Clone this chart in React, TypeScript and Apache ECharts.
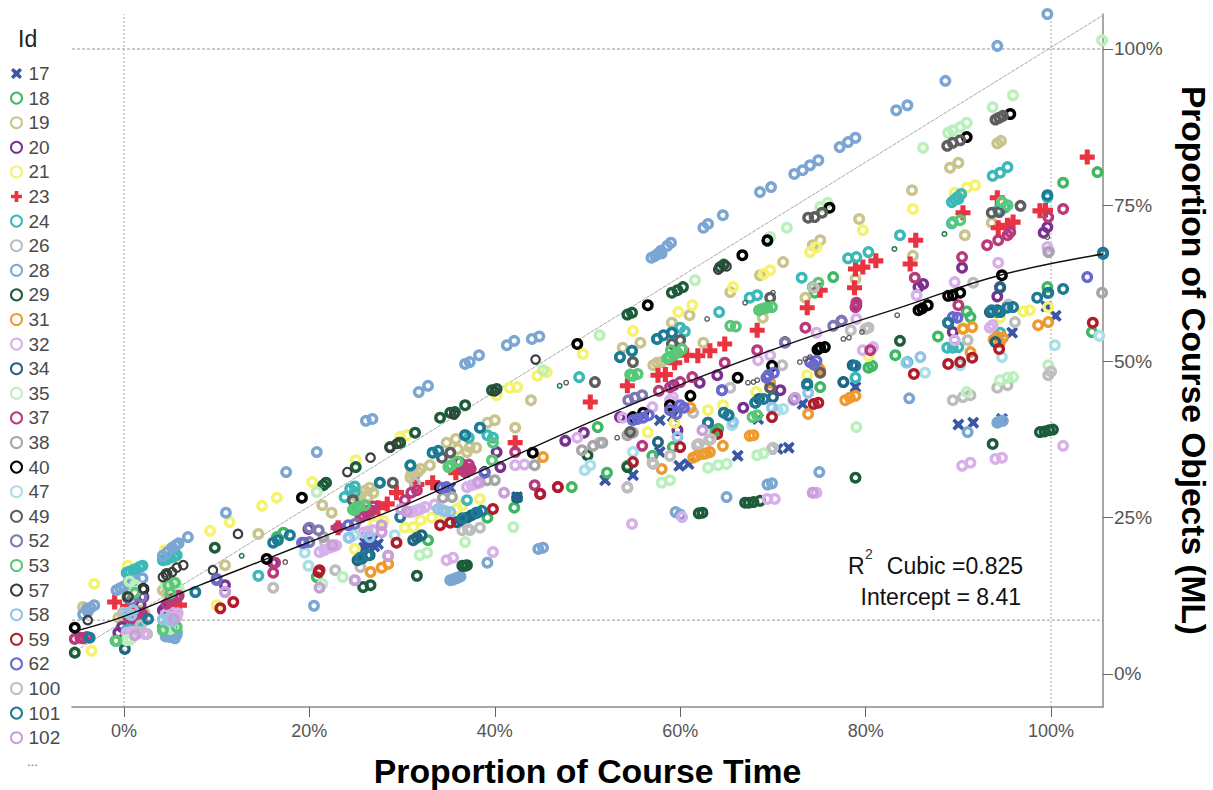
import React, { useEffect, useRef } from "react";
import * as echarts from "echarts";

type P = [number, number];

const xTicks = [0, 20, 40, 60, 80, 100];
const yTicks = [0, 25, 50, 75, 100];
const ids = ["17","18","19","20","21","23","24","26","28","29","31","32","34","35","37","38","40","47","49","52","53","57","58","59","62","100","101","102"];
const xTitle = "Proportion of Course Time";
const yTitle = "Proportion of Course Objects (ML)";

const d17: P[] = [[90,39.9],[91.6,40.2],[94.7,40.8],[100.5,57.3],[95.8,54.6],[78.9,45.9],[51.9,31],[54.9,31.8],[59.9,33.3],[60.9,33.6],[66.2,34.9],[70.5,36],[71.7,36.2],[73.2,43.2],[68.4,40.8],[57.8,35.5],[26.5,20.6],[25.9,20.2],[26.8,21.4],[42.4,28.3],[35.2,29.8],[57.8,40.6],[99.5,58.8],[59.2,41.2],[26,21],[27,20.4],[27.4,20.8],[26.2,22]];
const d18: P[] = [[105,80.3],[101.3,78.6],[99.6,61.9],[91.3,57.1],[87.8,54],[83.2,51],[80.7,49.3],[80.3,49],[75.1,45.9],[95.3,58.9],[93.7,57.9],[104.4,54.7],[76.5,63.5],[54.3,33.3],[52.1,32.2],[57,34.9],[64.1,39.2],[59.2,36.3],[48.3,29.9],[42.1,26.6],[51.1,39.5],[39.2,25],[32.8,21.4],[20.8,15.5],[-0.9,5.3],[4.2,7.5],[5.7,6.7],[16.5,21.9],[17.2,22.6],[74.5,61],[90.9,58],[63.8,38.8],[4.8,6.3]];
const d19: P[] = [[94.6,85.3],[94.2,84.9],[90,81.8],[89.1,81],[79.3,72.8],[85,77.4],[75.1,69.4],[74.3,68.6],[90.7,70.2],[85.1,66.9],[78.9,63.2],[93.6,72.2],[73.5,60.2],[68.9,57],[71.1,65.9],[68.6,63.8],[65.4,61.1],[61,57.4],[59.1,56.2],[62.5,53],[57.5,49.8],[57.1,49.4],[58,49.9],[55.7,53],[53.8,52.2],[43.9,43.8],[42.2,39.4],[40,40.6],[39.2,40.2],[37.3,36.3],[34.8,37],[35.8,37.6],[31.2,32.2],[30.9,31.4],[31.7,32.3],[26.3,28.3],[26.9,29],[25.6,27.6],[22.4,25.8],[21.4,27],[37,35.5],[38,36.2],[10.9,17.4],[14.5,22.4],[-0.1,9.1],[-4.4,10.7],[5,13.9],[4.6,13],[1,9.7],[1.9,10.2],[25,28.4],[26,29.3],[25.5,28.6],[26.5,29.8],[31,32],[32,32.8],[33,33.4],[36,36],[0.5,9.4],[1.5,9.6],[2.2,9.8],[-0.6,9],[4.2,13.4],[5.2,13.6]];
const d20: P[] = [[90.4,65],[86.2,62.4],[85.7,61.9],[99.6,71.5],[89.4,54.7],[79,59],[77.4,56.5],[94.5,61.9],[66.8,42.6],[62.1,46.6],[64,47.8],[59.3,46.2],[70.8,45.4],[53.5,41.1],[47.6,37.3],[49.6,38.6],[40.6,33.1],[40.2,35.5],[59.7,39],[19.9,23.2],[10.9,14.2],[2.1,12.3],[-0.6,6.6],[16.1,17.8],[5,11.4],[4.2,10.2],[94.2,60.4],[99.2,70.6],[4.5,10.6],[5.5,10.9],[1.8,11],[-0.2,7.5]];
const d21: P[] = [[89.6,77],[90.2,76.7],[91.8,78.2],[90.9,77.8],[85.1,74.4],[79.7,71],[74.7,68.3],[74,67.5],[97.7,58.2],[97,58],[99.7,58.7],[80.3,50.9],[94.5,57],[90.5,55.4],[69.7,64.6],[69,64],[65.7,61.9],[59.8,57.9],[61.3,59],[54.9,54.9],[49.5,51.2],[44.6,47.7],[45.6,48.3],[40.2,44.6],[41.6,45.8],[42.4,45.9],[29.8,37.9],[56.5,38.7],[63,42.2],[64.6,43],[59.4,40.2],[68.2,45.1],[73.7,47.8],[25,34.2],[20.3,30.7],[30.5,38.2],[24.9,20],[33.2,25],[30.3,23.4],[31.2,23.5],[35.9,26.4],[38.4,28],[9.3,22.9],[11.4,24.3],[14.9,26.9],[16.5,28.2],[-3.2,14.4],[-3.5,3.7],[10,11],[0.4,17.3],[4.4,19.8],[27,24],[28,24.5],[32,24.6],[34.5,25.6],[36.5,27]];
const d23: P[] = [[103.9,82.7],[94.2,76.2],[90.5,73.8],[99.4,74.2],[98.8,74.1],[95.9,72.3],[95.3,71.8],[94.3,71.4],[85.4,69.4],[84.8,65.6],[81.1,66.1],[79.7,65.1],[78.9,64.8],[78.8,61.8],[73.7,58.6],[75.1,61.4],[68.3,55],[64.8,52.8],[63.2,51.7],[61.9,50.9],[60.7,51],[59.4,49.8],[57.6,47.8],[54.3,46.1],[50.3,43.5],[42.2,37],[37,32.6],[33.3,30.6],[36.8,33.1],[29.4,29],[28.4,27.2],[31.6,30.3],[23.1,23.4],[26.3,25.8],[-1,11.5],[6,11],[5.4,10.6],[0.4,10.8],[27.4,26.6],[35.8,32.2],[58.4,47.9]];
const d24: P[] = [[95.3,81.1],[94.5,80.2],[93.7,79.7],[89.9,76.3],[89.3,75.5],[90.3,76.8],[99.6,76.3],[95,74.6],[94.3,74.2],[89.3,72.1],[83.7,70.2],[80.3,67.5],[79,66.7],[78.1,66.5],[73.1,63.4],[89.4,52.2],[90,52.3],[88.8,52.2],[84.5,49.9],[77.6,46.7],[78.9,47.4],[94.5,54.6],[67.5,60.2],[68.3,60.6],[64.2,57.9],[57.5,53.6],[54.8,51.7],[53.5,50.7],[49.1,47.5],[38.4,39.4],[36.8,38.2],[33.3,35.4],[30.9,33.3],[60,55.4],[59.1,54.6],[39.8,37.8],[24.9,30],[23.8,28.3],[27.6,30.6],[37,27.8],[14.5,15.7],[24.9,29.1],[1,16.6],[1.7,17.1],[0.3,16.2],[5,18.6],[4.2,18.2],[5.7,19],[1,7.5],[0.3,7],[1.8,8],[0.6,16.4],[1.3,16.8],[2,17.3],[4.6,18.3],[5.4,18.8],[0.7,7.2],[1.4,7.8],[2,8.3],[90,76],[89.6,75.9],[24.4,29.6],[39.2,38.2],[60.5,54.8],[37.2,37.8]];
const d26: P[] = [[89.4,43.8],[90.5,44.3],[91.3,44.6],[94.2,45.8],[95.3,46.2],[99.7,47.8],[91.6,62.6],[80.3,55.4],[91,53.4],[96.1,56.3],[61.8,36.6],[63.1,37.4],[69.9,36],[54.3,29.9],[57,33.8],[58.9,34.9],[51.3,37],[71,49.4],[65.4,45.8],[61.4,41.8],[31.4,30.6],[36.5,23],[37.3,23],[38.4,23.4],[28.5,18.9],[22.8,16.6],[25.5,17.1],[21.7,21],[16.1,13.8],[10.9,13.1],[2.5,6.4],[-0.1,9.8],[5.3,9.1]];
const d28: P[] = [[94.2,100.5],[99.6,105.6],[100.2,105.9],[88.6,94.9],[84.5,91],[83.3,90.2],[78.9,85.8],[78.1,85.1],[77.2,84.3],[74.9,82.2],[74,81.4],[73.2,80.6],[72.3,80],[69.8,77.9],[68.6,77.1],[64.6,73.4],[63,72],[62.5,71.4],[59,69],[58.6,68.5],[57.3,66.9],[56.9,66.6],[57.9,67.7],[44.8,54],[44,53.6],[42.1,53.3],[41.3,52.6],[38.3,51],[36.8,49.6],[37.3,49.9],[32.8,46.1],[31.8,45.1],[26.8,40.8],[26.1,40.5],[20.8,35.5],[17.5,32.3],[11,25.8],[6.9,21.9],[5.2,20.2],[4.7,19.5],[4.2,18.9],[2,15.3],[1.2,15],[0,14],[-0.8,13.4],[-3.6,10.6],[-3.9,10],[-4.4,9.5],[4.6,6.5],[5.4,6.3],[5,6.8],[20.5,10.9],[65,28.3],[69.9,30.5],[69.4,30.3],[59.5,25.9],[60,25.5],[75,32.3],[94.2,40.2],[94.8,40.5],[91,38.7],[36.3,15.6],[35.8,15.3],[35.2,15],[39.2,17.8],[44.7,20],[45.2,20.2],[84.7,44.1],[5,5.9],[4.5,6],[5.5,5.7],[4.8,6.5],[5.7,6.3],[0.5,14.7],[0.9,14.9],[-3.2,11],[-4,10.4],[-0.4,13.7],[58,67.3],[57.6,67.2],[5.6,20.6],[5.9,20.9],[36,15.4],[35.5,15.1],[94.4,40.4]];
const d29: P[] = [[93.7,36.8],[98.8,38.7],[99.3,38.8],[99.8,39],[100.2,39.1],[83.7,53.3],[78.9,31.4],[62.4,25.8],[62,25.7],[67.9,27.5],[67,27.4],[67.4,27.4],[68.6,27.7],[50,35],[54.3,33.1],[69.4,69.3],[64.3,65.1],[64.7,65.5],[59.7,61.4],[60.3,61.9],[59.1,61],[54.8,57.8],[54.3,57.5],[39.7,45.4],[40.2,45.6],[35.2,41.8],[35.7,41.9],[36.8,43],[34.1,41],[31.4,38.6],[29.8,37],[28.7,36.3],[29.7,37],[21.5,30.2],[21.8,30.6],[25,33.1],[31.6,15.7],[36.5,17.3],[37,17.4],[36.8,17.3],[25.8,13.9],[26.6,14.2],[9.8,20.2],[-5.3,3.4],[0.4,12.3],[4.6,16]];
const d31: P[] = [[73.8,41.6],[77.8,43.8],[78.9,44.5],[78.3,44.2],[98.6,55.8],[99.7,56.3],[94.8,53.8],[94.5,53.1],[91.3,51.5],[91.5,55.5],[90.5,55.2],[75.1,48.6],[62.5,35.2],[61.8,34.9],[63.2,35.5],[64.6,36.5],[58,32.8],[67.9,38.2],[67.5,38.1],[61.1,42.6],[69.7,46.6],[74.9,49],[45.2,34.7],[26.6,16.3],[27.8,17],[28.5,17.6],[94.2,54],[93.8,53.5],[62.8,35.3],[61.4,34.6]];
const d32: P[] = [[101.3,36.5],[90.4,33.3],[91.3,33.8],[94,34.4],[94.7,34.6],[99.6,68.3],[99.8,67.6],[85.5,60.6],[94.3,65.8],[89.6,62.7],[89.6,53.4],[93.7,55.8],[93.4,55.4],[79.7,51.8],[80.8,52.3],[79,56.8],[74.7,54.6],[69.4,28],[70.2,28],[74.3,29],[74.7,29],[60.2,25.1],[54.8,24],[68.4,50.2],[69.7,51],[59.2,44.3],[58.9,43.8],[57,42.7],[53.8,41],[48.9,37.8],[42.2,33.4],[43.2,33.5],[37,29.9],[38.4,30.6],[31.6,26.2],[30.9,25.9],[32.5,26.7],[33.5,27.1],[72.2,43.8],[34.8,18.2],[35.5,18.6],[39.8,19.5],[24.9,15],[21.1,19.5],[22.2,20.2],[25.8,22.6],[26.9,23],[0.3,6.6],[1.7,6.7],[1,6.7],[5.7,9.1],[5.2,8.3],[22.9,20.6],[4.5,9.5],[5.2,9.8],[5.8,9.7],[4.8,8.5],[0.7,6.7],[1.3,6.6],[2.2,6.4],[31.2,26],[32,26.4],[21.6,19.8],[22.6,20.4],[26.3,22.8],[37.5,30.2],[38,30.4]];
const d34: P[] = [[0.1,4],[25.2,18.2],[26.5,19],[31.2,21.4],[32.1,22.2],[37,25],[35.9,24.3],[38.1,25.8],[42.4,28.2],[57.6,37.1],[68.1,43.4],[70,44.3],[63,40.2],[65.2,41.4],[73.7,46.4],[77.6,46.7],[78.6,49.4],[94.5,61.8],[94.5,57.9],[94.2,58.2],[93.4,57.9],[88.9,56.2],[73.7,46.2],[94,53.1],[105.6,67.4],[68.5,44],[37.5,25.4],[36.4,24.6],[25.7,18.5],[31.6,21.8]];
const d35: P[] = [[105.5,101.4],[95.9,92.6],[93.7,90.7],[90.9,88.2],[90.2,87.5],[89.4,87],[88.9,86.6],[86.2,84.2],[75.9,75.4],[75.1,74.7],[94.7,75.5],[79,39.5],[99.7,49.4],[95.9,47.5],[95.3,47.4],[94.5,47],[90.9,45.1],[68.3,35],[69,35.3],[64.1,33.4],[65,33.6],[63,33],[58.9,31],[58,30.6],[71.5,71.4],[61.6,63],[51.3,54.2],[45.2,48.6],[69.7,69.9],[36.8,21.1],[31.9,19],[32.7,19.4],[20.8,29.1],[21.4,14.4],[23.6,15.5],[42,23.5],[0.3,5.4],[5.5,7.5],[5.4,13.6],[6,13.2],[1.4,14],[4.5,14.5],[5.2,14.8],[5.8,13.9],[0.7,5.5],[1.2,14.2],[0.6,14.8],[5,7.2],[4.6,7.4]];
const d37: P[] = [[101.3,74.4],[90.4,66.7],[85.3,63.4],[93.1,68.6],[94.3,69.4],[95.3,70.2],[95.6,70.7],[99.7,73.1],[78.9,58.7],[79,59.4],[73.5,55.4],[80.5,51.8],[90,59],[57.7,45.3],[58.9,45.9],[60,46.7],[61.3,47.5],[64.8,49.8],[68.3,51.8],[55.9,36.5],[42.2,35.5],[44.3,30.2],[44.9,28.8],[46.8,29.9],[36.8,32.3],[31.6,29.4],[30.3,27.8],[26.2,25.8],[25.5,25],[23.1,23.4],[-4.7,5.8],[-4,5.9],[-5.3,5.6],[16.1,16.2],[16.3,17.8],[1,9.1],[1.7,9.4],[5.7,12.3],[5,11.8],[37.4,32.8],[4.6,11.2],[5.3,12],[5.9,12.5],[0.5,9],[1.4,9.3],[2,9.5],[-4.4,5.7],[26.6,26],[25.8,25.4],[36.6,33],[37.2,33.5],[31,29],[1,8.9],[26.9,26.8],[25.2,26.2],[36.2,33.9]];
const d38: P[] = [[105.5,61],[99.7,67.5],[54.9,38.6],[54.3,38.2],[69.7,45.8],[21.5,21.9],[34.4,28.2],[35.4,28.3],[39.2,31],[40,31],[44.3,33.4],[49.4,35.8],[50.6,36.5],[51.6,37]];
const d40: P[] = [[15.4,18.4],[19.2,28.2],[44.1,35.4],[48.9,52.8],[56.5,59],[66.7,67],[69.4,69.4],[66.2,47.4],[61.1,44.5],[69.9,49.3],[54.9,41.1],[56,41.8],[58.9,43],[38.9,32.3],[34.1,29.8],[75.1,52.2],[75.6,52.3],[74.8,51.9],[85.7,58.2],[86.7,59],[86.1,58.5],[88.9,60.5],[89.4,60.6],[90.2,61],[94.7,63.8],[90.9,85.9],[95.6,89.6],[76.1,74.6],[-5.3,7.4],[2.1,13.6]];
const d47: P[] = [[100.4,52.6],[105.2,54.1],[86.4,48.2],[94.7,50.7],[90.2,49.4],[71.1,42.4],[70.5,42.2],[65.6,39.8],[54.9,35.5],[49.7,32.6],[50.3,33.4],[29.2,22.2],[19.9,17.3],[19.5,19.4],[24.2,21.8],[24.8,22.2]];
const d49: P[] = [[50.8,46.7],[54.9,49.9],[60,53.4],[59.1,52.8],[69.7,60.2],[71.3,53.1],[35.2,35.4],[34.3,34.6],[96.7,74.9],[93.6,73.8],[94.4,73.9],[29,30.6],[24.7,27.8],[69.7,45.8],[54.6,38.7],[75.1,48.2],[94,88.7],[94.4,89],[94.8,89.3],[88.8,84.5],[89.4,85],[90.2,85.4],[73.8,73],[74.5,73.1],[75.3,73.8]];
const d52: P[] = [[20,23.4],[21,23],[19.2,21],[20,21.1],[24.9,24],[54.4,43.8],[55.1,44.2],[55.9,44.6],[64.5,45.4],[71.3,53],[72.3,44],[76.5,55.7],[77.4,56.5],[10,15],[1.9,12.3],[0.8,11.8]];
const d53: P[] = [[69.9,58.7],[69.4,58.6],[68.8,58.4],[59.7,51.4],[58.9,50.7],[54.9,47.7],[55.4,48],[65.4,55.7],[66,55.6],[35,33.1],[39.7,34.2],[24.9,26.2],[39.8,37],[74.3,61.9],[74.9,62.6],[94.7,75.5],[95.3,75],[90.2,72.6],[89.4,72.3],[68.3,41.4],[67.8,41.1],[4.2,7],[5.7,7.5],[-0.8,5.3],[5,12.9],[1.2,13],[5.5,14.6],[4.8,14.2],[25,26.6],[24.7,26.3],[35.3,33.4],[69.1,58.5],[68.5,58.2],[59.3,51],[58.6,50.5],[54.6,47.9],[36,34],[26,27],[25.4,26.8],[60.2,52],[59,51.8]];
const d57: P[] = [[-3.9,8.6],[6.4,17.4],[5.7,17],[5.2,16.3],[4.6,15.8],[4.2,15.5],[12.3,22.4],[9.6,16.6],[24.1,32.3],[26.6,34.6],[28.7,36.2],[29.4,36.8],[99.6,60.9],[2.1,13.6],[0.5,12.3],[35.6,41.5],[40,45.2],[44.4,50.3],[65,65.2],[64.1,64.7]];
const d58: P[] = [[24.3,21.8],[34.4,26.2],[35.2,25.9],[26.5,21.9],[65.7,40.3],[69.9,42.6],[59.7,37.9],[73.8,45],[84.4,49.8],[85.9,50.7],[1,10.2],[0.4,9.8],[4.8,8.9],[4.2,8.7],[5.2,8.4],[0.8,9.4],[33.9,26.4],[34.7,26]];
const d59: P[] = [[104.5,56.2],[85.2,48],[88.9,49.6],[90.2,49.9],[91.5,50.6],[94.4,52],[74.9,43.4],[74.4,43.2],[54.9,33.9],[60,36.3],[69.9,41.1],[64,38.4],[46.8,29.9],[44.9,28.8],[39.8,26.4],[34.1,23.8],[35.2,24.2],[29.4,21],[21.1,16.6],[21,16.3],[11.8,11.5],[10.4,10.5]];
const d62: P[] = [[103.9,63.5],[89.4,57.1],[89.9,57],[74,49.9],[69.5,47.8],[70.1,48.2],[60,43],[54.9,40.6],[56,41],[34.8,29.9],[34.3,29.8],[38.9,32.2],[64.5,45.4],[24.2,23.8],[19.4,21],[10,15.2],[58.9,42.2],[59.6,41.6],[55.4,40.8],[56.6,41.4],[60.4,42.6],[69.3,47.4],[74.4,49.5],[74.7,50.1]];
const d100: P[] = [[74.4,61.8],[54.3,29.8],[57.1,33.6],[62,36.8],[63.3,37.6],[70,36.2],[78.4,55],[80,55.2],[95.4,59.1],[37.1,23.2],[1.8,7.8],[100,48.4]];
const d101: P[] = [[101.3,61.6],[99.7,61],[98.5,60.2],[95.9,58.7],[95.3,58.6],[94.3,57.9],[93.6,58.2],[88.9,56.2],[105.6,67.2],[99.6,76.6],[78.9,49.3],[53.5,50.7],[54.8,51.7],[57.5,53.6],[59.1,54.6],[63,40.2],[65.2,41.4],[68.1,43.4],[73.7,46.4],[38.4,39.4],[36.8,38.2],[33.3,35.4],[33.9,35.7],[29.8,25.1],[30.9,33.4],[25.5,18.6],[26.3,19],[36.5,24.9],[38,25.8],[38.6,26.1],[7.7,13.1],[16.1,21],[16.6,21.4],[17.9,22.2],[27.6,30.6],[-3.7,5.8],[2.6,8.8],[64.7,41.8],[69,44],[58.2,54.2]];
const d102: P[] = [[74.3,29],[10.9,13.1],[24.9,15],[21.1,13.8],[27.8,23.8],[28.5,18.9],[27.8,22.7],[41,29],[38.2,30.7],[22.5,20.6],[62.4,39],[72.4,44.2],[29.9,26.4],[30.5,26],[1.2,6.2],[5.4,8.8]];
const small57: P[] = [[67,59.4],[70,61],[62.9,56.8],[47.7,46.6],[53.2,37.8],[67.3,46.6],[67.9,46.7],[68.3,47],[77.6,53.6],[78.2,53.8],[83.4,57.4],[79.6,54.7],[99.6,69.9],[17.4,17.9],[72.9,49.9],[73.5,50.4],[74,50.7]];
const small29: P[] = [[12.7,18.9],[47,46.1],[88.5,70.4],[83.1,68]];
const fitX = [-5.6, 0, 8.2, 15.4, 22.6, 29.8, 40.5, 51.4, 62.1, 72.9, 83.7, 94.5, 105.6];
const fitY = [6.7, 9.2, 14.2, 18.4, 22.6, 26.7, 33.8, 41, 47.5, 53.4, 58.6, 63.8, 67.2];
const diagonalX = [-5.6, 105.6];
const diagonalY = [3.3, 105.4];
const rLow = 8.6;
const rHigh = 100;

const values = [d17,d18,d19,d20,d21,d23,d24,d26,d28,d29,d31,d32,d34,d35,d37,d38,d40,d47,d49,d52,d53,d57,d58,d59,d62,d100,d101,d102];
const colors = ["#3a57a6","#3fb863","#c9c48e","#7b2f8f","#f5f36c","#ea3340","#3cb8b8","#bdbdbd","#7ba6d3","#1d5c3a","#ee9a2f","#d7b0ea","#1f6480","#b9f0bc","#b83a7c","#a6a6a6","#000000","#a9dfe8","#5e5e5e","#7e78b3","#58c878","#3c3c3c","#92c4e8","#b01c2c","#6868d0","#bfbfbf","#1d7a96","#c99fd8"];

const X_SYM = "path://M2 0L5 2.6L8 0L10 2L7.4 5L10 8L8 10L5 7.4L2 10L0 8L2.6 5L0 2Z";
const PLUS_SYM = "path://M3.3 0H6.7V3.3H10V6.7H6.7V10H3.3V6.7H0V3.3H3.3Z";
const FONT = "'Liberation Sans', Arial, sans-serif";

export default function App() {
  const ref = useRef<HTMLDivElement>(null);
  useEffect(() => {
    const chart = echarts.init(ref.current!, undefined, { renderer: "svg" });
    const ring = (name: string, data: P[], color: string, size: number, width: number) => ({
      name, type: "scatter", data, symbol: "circle", symbolSize: size,
      itemStyle: { color: "rgba(255,255,255,0)", borderColor: color, borderWidth: width, opacity: 1 },
      silent: true, z: 3,
    });
    const marks = ids.map((id, i) => {
      if (id === "17") return { name: id, type: "scatter", data: values[i], symbol: X_SYM, symbolSize: 12, itemStyle: { color: colors[i], opacity: 1 }, z: 3 };
      if (id === "23") return { name: id, type: "scatter", data: values[i], symbol: PLUS_SYM, symbolSize: 15, itemStyle: { color: colors[i], opacity: 1 }, z: 3 };
      return ring(id, values[i], colors[i], 8.5, id === "57" ? 2.2 : 3.4);
    });
    const refLine = (name: string, a: number[], b: number[], type: any, color: string) => ({
      name, type: "line", data: a.map((v, i) => [v, b[i]]), symbol: "none", silent: true, z: 2,
      lineStyle: { color, width: 1, type },
    });
    chart.setOption({
      animation: false,
      backgroundColor: "#fff",
      textStyle: { fontFamily: FONT },
      grid: { left: 72, right: 110, top: 14, bottom: 83, outerBoundsMode: "none" },
      legend: {
        orient: "vertical", left: 10, top: 64, padding: 0, itemWidth: 14, itemHeight: 11, itemGap: 5.6, data: ids,
        textStyle: { fontFamily: FONT, fontSize: 19, color: "#4a4a4a" }, selectedMode: false,
      },
      xAxis: {
        type: "value", min: -5.6, max: 105.6, splitLine: { show: false },
        axisLine: { lineStyle: { color: "#8a8a8a", width: 1.5 }, onZero: false },
        axisTick: { customValues: xTicks, length: 10, lineStyle: { color: "#666" }, inside: false },
        axisLabel: { customValues: xTicks, formatter: "{value}%", fontSize: 18, color: "#555", margin: 15, fontFamily: FONT },
        name: xTitle, nameLocation: "middle", nameGap: 47,
        nameTextStyle: { fontSize: 33.8, fontWeight: "bold", color: "#000", fontFamily: FONT },
      },
      yAxis: {
        type: "value", position: "right", min: -5.3, max: 105.6, splitLine: { show: false },
        axisLine: { show: true, lineStyle: { color: "#8a8a8a", width: 1.5 }, onZero: false },
        axisTick: { show: true, customValues: yTicks, length: 10, lineStyle: { color: "#666" } },
        axisLabel: { customValues: yTicks, formatter: "{value}%", fontSize: 19, color: "#555", margin: 11, padding: [5, 0, 0, 0], fontFamily: FONT },
        name: yTitle, nameLocation: "middle", nameGap: 73, nameRotate: -90,
        nameTextStyle: { fontSize: 33.5, fontWeight: "bold", color: "#000", fontFamily: FONT },
      },
      series: [
        refLine("y100", [-5.6, 105.6], [rHigh, rHigh], [3, 2], "#999"),
        refLine("y8", [-5.6, 105.6], [rLow, rLow], [3, 2], "#999"),
        refLine("x0", [0, 0], [-5.3, 105.6], [2, 2], "#aaa"),
        refLine("x100", [100, 100], [-5.3, 105.6], [2, 2], "#aaa"),
        refLine("diagonal", diagonalX, diagonalY, [4, 1], "#aaa"),
        ...marks,
        ring("small57", small57, "#555555", 4.5, 1.3),
        ring("small29", small29, "#1f7a48", 4.5, 1.5),
        { name: "fit", type: "line", smooth: 0.4, symbol: "none", silent: true, z: 5,
          data: fitX.map((v, i) => [v, fitY[i]]), lineStyle: { color: "#111", width: 1.4 } },
      ],
      graphic: [
        { type: "text", left: 18, top: 27, style: { text: "Id", font: `23px ${FONT}`, fill: "#222" } },
        { type: "text", left: 27, top: 755, style: { text: "...", font: `13px ${FONT}`, fill: "#666" } },
        { type: "text", left: 848, top: 554, style: { text: "R", font: `23px ${FONT}`, fill: "#111" } },
        { type: "text", left: 865, top: 547, style: { text: "2", font: `14px ${FONT}`, fill: "#333" } },
        { type: "text", right: 190, top: 554, style: { text: "Cubic =0.825", font: `23px ${FONT}`, fill: "#111" } },
        { type: "text", right: 192, top: 585, style: { text: "Intercept = 8.41", font: `23px ${FONT}`, fill: "#111" } },
      ],
    });
    return () => chart.dispose();
  }, []);
  useEffect(() => { document.body.style.margin = "0"; }, []);
  return <div ref={ref} style={{ position: "absolute", left: 0, top: 0, width: 1213, height: 790 }} />;
}
